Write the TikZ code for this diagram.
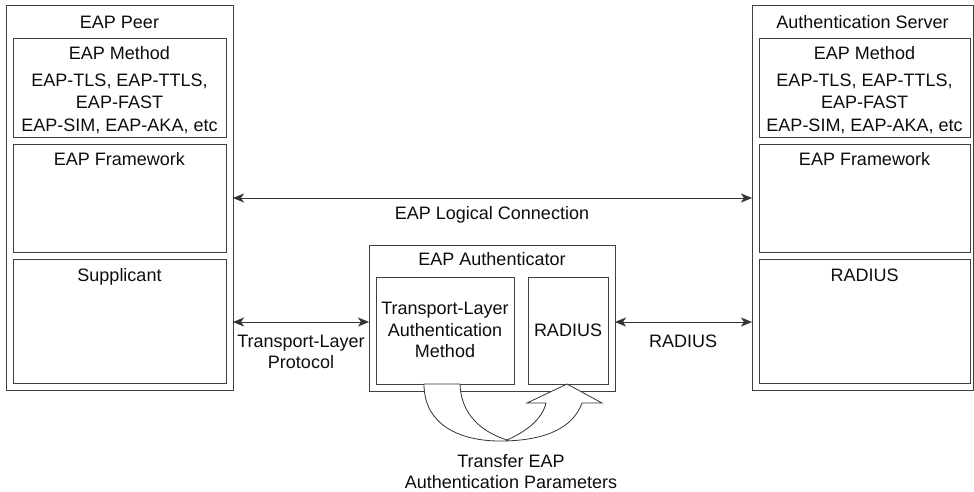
\documentclass[tikz,border=0pt]{standalone}
\usepackage{fontspec}
\setmainfont{Liberation Sans}
\usetikzlibrary{arrows.meta}
\begin{document}
\begin{tikzpicture}[x=1pt,y=-1pt,
  box/.style={draw=black!75, line width=1pt, rectangle, inner sep=0pt, outer sep=0pt},
  lbl/.style={font=\fontsize{18}{22}\selectfont, text=black!95, inner sep=0pt, anchor=base},
  arr/.style={draw=black!80, line width=1pt, {Stealth[length=11pt,width=9pt,inset=3pt]}-{Stealth[length=11pt,width=9pt,inset=3pt]}}
]
\useasboundingbox (0,0) rectangle (974,491);

% EAP Peer
\node[box, minimum width=227pt, minimum height=385pt] (peer) at (119.5,197.5) {};
\node[box, minimum width=213pt, minimum height=99pt] (pmeth) at (119.5,87.5) {};
\node[box, minimum width=213pt, minimum height=108pt] (pfw) at (119.5,198) {};
\node[box, minimum width=213pt, minimum height=124pt] (psup) at (119.5,321) {};
\node[lbl] (tpeer) at (119.5,28.5) {EAP Peer};
\node[lbl] (tpm) at (119.5,59.5) {EAP Method};
\node[lbl] (tpm1) at (119.5,86.5) {EAP-TLS, EAP-TTLS,};
\node[lbl] (tpm2) at (119.5,108.5) {EAP-FAST};
\node[lbl] (tpm3) at (119.5,131) {EAP-SIM, EAP-AKA, etc};
\node[lbl] (tpfw) at (119.5,165.5) {EAP Framework};
\node[lbl] (tpsup) at (119.5,281.5) {Supplicant};

% Authentication Server
\node[box, minimum width=221pt, minimum height=385pt] (server) at (862.5,197.5) {};
\node[box, minimum width=211pt, minimum height=99pt] (smeth) at (864.5,87.5) {};
\node[box, minimum width=211pt, minimum height=108pt] (sfw) at (864.5,198) {};
\node[box, minimum width=211pt, minimum height=124pt] (srad) at (864.5,321) {};
\node[lbl] (tserver) at (862.5,28.5) {Authentication Server};
\node[lbl] (tsm) at (864.5,59.5) {EAP Method};
\node[lbl] (tsm1) at (864.5,86.5) {EAP-TLS, EAP-TTLS,};
\node[lbl] (tsm2) at (864.5,108.5) {EAP-FAST};
\node[lbl] (tsm3) at (864.5,131) {EAP-SIM, EAP-AKA, etc};
\node[lbl] (tsfw) at (864.5,165.5) {EAP Framework};
\node[lbl] (tsrad) at (864.5,281.5) {RADIUS};

% EAP Authenticator
\node[box, minimum width=246pt, minimum height=146pt] (auth) at (492,318) {};
\node[box, minimum width=138pt, minimum height=107pt] (tlam) at (445,330.5) {};
\node[box, minimum width=80pt, minimum height=107pt] (arad) at (568,330.5) {};
\node[lbl] (tauth) at (492,265.5) {EAP Authenticator};
\node[lbl] (ttl1) at (445,314.5) {Transport-Layer};
\node[lbl] (ttl2) at (445,336.5) {Authentication};
\node[lbl] (ttl3) at (445,357.5) {Method};
\node[lbl] (tarad) at (568,336.5) {RADIUS};

% connections
\coordinate (ty) at (0,322);
\draw[arr] (peer.east |- pfw.center) -- (server.west |- pfw.center);
\node[lbl] (tlog) at (492,219.5) {EAP Logical Connection};
\draw[arr] (peer.east |- ty) -- (auth.west |- ty);
\node[lbl] (ttp1) at (301,347.5) {Transport-Layer};
\node[lbl] (ttp2) at (301,368.5) {Protocol};
\draw[arr] (auth.east |- ty) -- (server.west |- ty);
\node[lbl] (trad) at (683,347.5) {RADIUS};

% curved block arrow
\draw[draw=black!80, line width=0.8pt, fill=white]
  (424,384) .. controls (424,425) and (460,441) .. (500,441)
  .. controls (545,441) and (573,428) .. (582,403)
  -- (602,403) -- (567,384) -- (527,403) -- (546,403)
  .. controls (542,420) and (525,432) .. (507,440)
  .. controls (482,432) and (461,415) .. (460,384) -- cycle;
\node[lbl] (ttr1) at (511,467) {Transfer EAP};
\node[lbl] (ttr2) at (511,488) {Authentication Parameters};
\end{tikzpicture}
\end{document}
